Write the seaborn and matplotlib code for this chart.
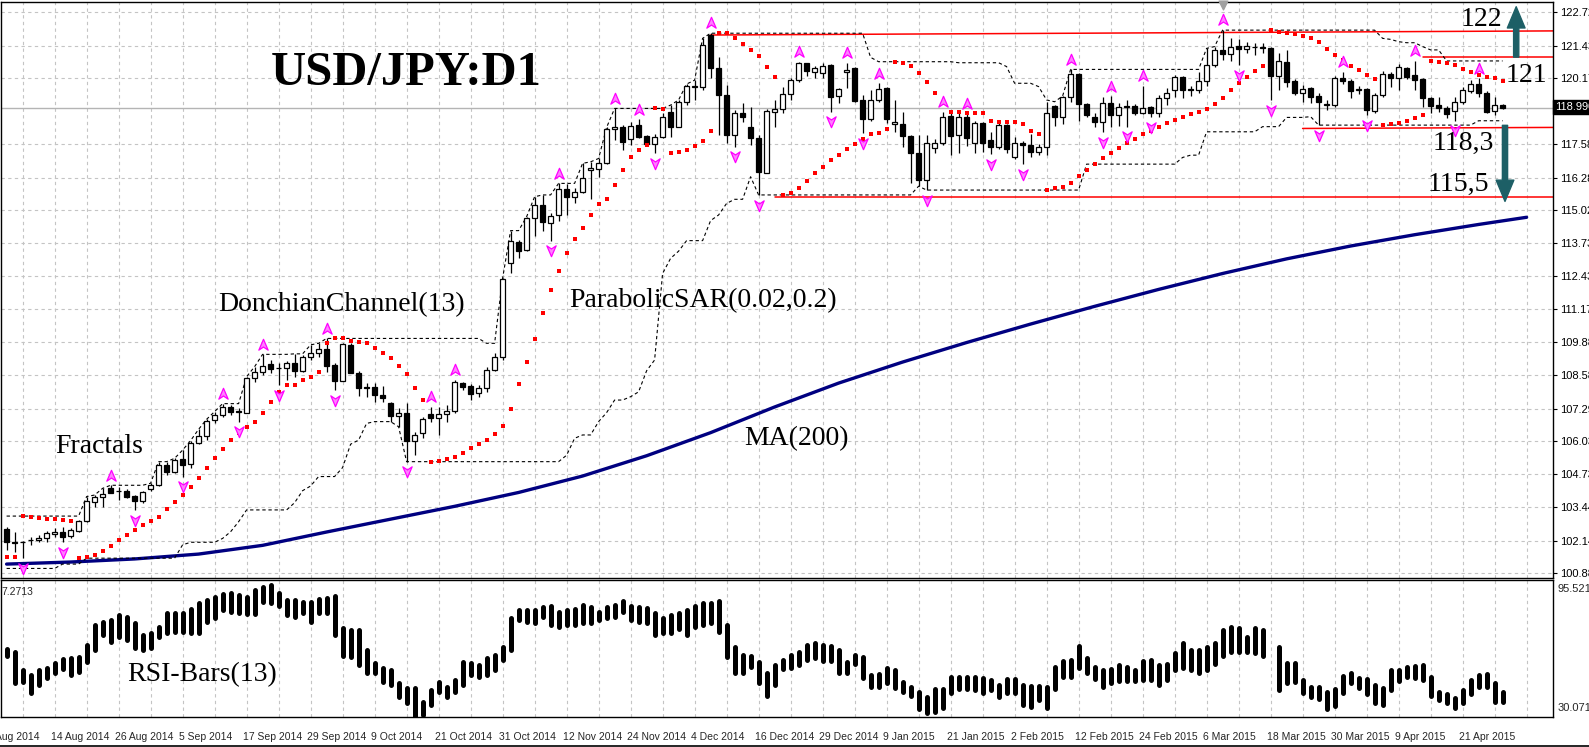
import numpy as np
import pandas as pd
import matplotlib.pyplot as plt
import seaborn as sns
from matplotlib.path import Path
from matplotlib.transforms import offset_copy

sns.set_style("white")
plt.rcParams['font.family'] = ['Liberation Sans', 'DejaVu Sans']

# USD/JPY daily bars, 6 Aug 2014 .. 28 Apr 2015
opens = [102.58, 102.10, 102.08, 102.15, 102.17, 102.24, 102.42, 102.47, 102.34, 102.53,
         102.90, 103.66, 103.83, 104.18, 104.08, 104.09, 103.88, 103.70, 104.14, 104.31,
         105.09, 104.83, 105.31, 105.13, 105.93, 106.22, 106.84, 107.04, 107.33, 107.19,
         107.13, 108.47, 108.73, 109.01, 108.87, 108.86, 109.05, 108.75, 109.31, 109.44,
         109.60, 108.99, 108.38, 109.77, 108.69, 108.12, 108.12, 107.82, 107.49, 107.00,
         107.10, 106.04, 106.32, 107.07, 106.94, 107.07, 107.19, 108.27, 108.17, 107.88,
         108.07, 108.79, 109.31, 112.94, 113.79, 113.46, 114.70, 115.22, 114.50, 114.83,
         115.83, 115.54, 115.74, 116.60, 116.63, 116.87, 118.17, 118.24, 117.78, 118.33,
         117.90, 117.59, 117.88, 118.85, 118.27, 119.24, 119.82, 119.80, 121.84, 120.54,
         119.50, 117.94, 118.82, 118.24, 117.81, 116.48, 118.85, 118.94, 119.54, 120.09,
         120.74, 120.39, 120.35, 120.67, 119.46, 120.39, 120.54, 119.31, 118.56, 119.31,
         119.76, 118.37, 118.37, 117.91, 117.23, 116.19, 117.42, 117.64, 118.69, 117.94,
         118.66, 117.62, 118.40, 117.75, 117.46, 118.33, 117.10, 117.62, 117.55, 117.29,
         117.49, 119.07, 118.63, 119.41, 120.32, 119.15, 118.63, 118.46, 119.18, 118.72,
         119.07, 119.07, 118.81, 119.02, 118.81, 119.37, 119.70, 120.19, 119.72, 119.70,
         120.06, 120.67, 121.26, 121.10, 121.41, 121.31, 121.36, 121.37, 121.32, 120.24,
         120.80, 120.06, 119.59, 119.76, 119.46, 119.13, 119.11, 120.15, 120.06, 119.70,
         119.72, 118.89, 119.50, 120.32, 120.15, 120.54, 120.28, 120.13, 119.37, 119.11,
         118.98, 118.89, 119.24, 119.67, 119.93, 119.57, 118.89, 119.11]
highs = [102.66, 102.47, 102.13, 102.27, 102.35, 102.50, 102.62, 102.69, 102.62, 102.95,
         103.86, 103.92, 104.18, 104.30, 104.25, 104.14, 103.92, 104.09, 104.38, 105.22,
         105.22, 105.35, 105.67, 106.04, 106.48, 106.87, 107.17, 107.48, 107.43, 107.30,
         108.53, 108.92, 109.40, 109.18, 109.05, 109.14, 109.42, 109.38, 109.77, 109.83,
         110.02, 109.05, 109.83, 109.83, 108.77, 108.27, 108.30, 108.17, 107.56, 107.30,
         107.49, 106.39, 106.97, 107.36, 107.33, 107.42, 108.40, 108.33, 108.24, 108.20,
         108.92, 109.46, 112.36, 114.22, 113.85, 114.76, 115.54, 115.61, 114.89, 116.06,
         116.04, 115.87, 116.84, 116.90, 117.03, 118.24, 118.98, 118.33, 118.46, 118.55,
         117.94, 117.97, 118.81, 119.11, 119.31, 119.93, 120.08, 121.71, 121.91, 120.97,
         119.89, 118.92, 119.18, 119.02, 117.94, 118.94, 119.31, 119.83, 120.15, 120.80,
         120.76, 120.65, 120.74, 120.70, 119.76, 120.76, 120.61, 119.50, 119.69, 119.96,
         119.83, 119.31, 118.85, 117.94, 117.94, 117.94, 117.77, 118.85, 118.79, 118.79,
         118.79, 118.50, 118.46, 118.07, 118.46, 118.37, 117.88, 117.72, 117.98, 117.59,
         119.24, 119.11, 119.46, 120.50, 120.37, 119.20, 118.79, 119.41, 119.45, 119.18,
         119.31, 119.15, 119.85, 119.07, 119.50, 119.76, 120.28, 120.24, 119.85, 120.41,
         121.32, 121.39, 122.03, 121.71, 121.67, 121.58, 121.54, 121.54, 121.39, 121.13,
         121.26, 120.11, 119.89, 119.80, 119.57, 119.31, 120.24, 120.41, 120.11, 119.85,
         119.76, 119.57, 120.45, 120.41, 120.71, 120.60, 120.83, 120.15, 119.44, 119.44,
         119.07, 119.44, 119.80, 120.09, 120.15, 119.67, 119.41, 119.15]
lows = [101.77, 101.72, 101.46, 101.98, 102.10, 102.10, 102.28, 102.08, 102.23, 102.49,
        102.88, 103.47, 103.47, 103.99, 103.73, 103.79, 103.34, 103.62, 104.09, 104.27,
        104.70, 104.77, 104.64, 104.99, 105.90, 106.06, 106.71, 106.97, 107.04, 106.78,
        107.10, 108.34, 108.60, 108.66, 108.20, 108.40, 108.50, 108.72, 109.18, 109.31,
        108.73, 108.01, 108.35, 108.66, 107.78, 107.75, 107.56, 107.56, 106.78, 106.58,
        105.22, 105.47, 106.13, 106.78, 106.26, 106.78, 107.13, 108.01, 107.62, 107.75,
        107.94, 108.76, 109.18, 112.55, 113.14, 113.42, 114.01, 114.22, 113.83, 114.61,
        114.83, 115.28, 115.67, 115.44, 116.32, 116.81, 117.75, 117.36, 117.55, 117.81,
        117.55, 117.23, 117.81, 117.85, 118.24, 119.11, 119.31, 119.70, 120.15, 117.94,
        117.62, 117.49, 118.46, 117.55, 115.61, 116.45, 118.24, 118.81, 119.31, 120.02,
        120.26, 120.15, 120.15, 118.85, 119.20, 119.79, 119.24, 118.01, 118.50, 119.24,
        118.40, 118.07, 117.49, 116.06, 115.95, 115.80, 117.23, 117.55, 117.17, 117.23,
        117.52, 117.26, 117.29, 117.19, 117.39, 117.26, 117.01, 116.81, 117.07, 117.16,
        117.16, 118.30, 118.37, 119.24, 118.50, 118.66, 118.24, 118.07, 118.27, 118.30,
        118.27, 118.72, 118.76, 118.63, 118.66, 119.11, 119.44, 119.37, 119.46, 119.57,
        119.85, 120.60, 120.87, 120.84, 120.67, 121.13, 121.06, 121.13, 119.31, 119.70,
        119.80, 119.50, 119.24, 119.18, 118.33, 118.92, 119.05, 119.93, 119.37, 119.54,
        118.72, 118.79, 119.44, 119.80, 119.70, 120.11, 119.70, 119.05, 118.79, 118.85,
        118.60, 118.50, 119.17, 119.57, 119.44, 118.81, 118.72, 118.94]
closes = [102.10, 102.05, 102.10, 102.17, 102.26, 102.43, 102.47, 102.30, 102.56, 102.90,
          103.69, 103.86, 103.95, 104.01, 104.06, 103.86, 103.70, 104.05, 104.32, 105.09,
          104.83, 105.29, 105.09, 105.93, 106.22, 106.82, 107.04, 107.36, 107.17, 107.17,
          108.47, 108.73, 108.95, 108.82, 108.85, 109.05, 108.75, 109.29, 109.44, 109.60,
          108.95, 108.38, 109.80, 108.69, 108.10, 108.10, 107.82, 107.69, 107.00, 107.10,
          106.04, 106.26, 106.90, 106.94, 107.07, 107.19, 108.31, 108.14, 107.85, 108.07,
          108.79, 109.31, 112.32, 113.83, 113.42, 114.70, 115.22, 114.57, 114.79, 115.83,
          115.54, 115.74, 116.26, 116.66, 116.87, 118.17, 118.24, 117.68, 118.31, 117.88,
          117.59, 117.85, 118.63, 118.24, 119.24, 119.85, 119.85, 121.45, 120.54, 119.50,
          117.94, 118.80, 118.63, 117.81, 116.52, 118.89, 118.94, 119.54, 120.09, 120.74,
          120.45, 120.56, 120.63, 119.41, 119.72, 120.48, 119.28, 118.56, 119.31, 119.72,
          118.56, 118.45, 117.91, 117.23, 116.19, 117.62, 117.64, 118.66, 117.91, 118.66,
          117.81, 118.40, 117.62, 117.46, 118.33, 117.39, 117.64, 117.55, 117.29, 117.49,
          118.81, 118.63, 119.41, 120.32, 119.15, 118.72, 118.46, 119.18, 118.72, 119.02,
          119.02, 118.81, 118.98, 118.81, 119.37, 119.59, 120.19, 119.70, 119.70, 120.06,
          120.67, 121.26, 121.10, 121.39, 121.31, 121.41, 121.38, 121.35, 120.24, 120.83,
          120.02, 119.59, 119.72, 119.44, 119.24, 119.17, 120.15, 120.06, 119.67, 119.72,
          118.92, 119.50, 120.32, 120.15, 120.58, 120.19, 120.09, 119.37, 119.07, 118.98,
          118.76, 119.24, 119.70, 119.93, 119.57, 118.85, 119.11, 118.99]

# 19 bars before the window (needed for the channel only)
pre_highs = [101.75, 101.70, 101.50, 101.65, 101.90, 101.75, 101.60, 101.45, 101.50, 101.55,
             101.60, 101.90, 101.95, 101.98, 102.15, 102.95, 103.10, 103.05, 102.70]
pre_lows = [101.50, 101.30, 101.20, 101.25, 101.40, 101.40, 101.06, 101.25, 101.30, 101.23,
            101.48, 101.50, 101.70, 101.75, 101.80, 101.95, 102.65, 102.35, 102.45]

# Parabolic SAR state on the first bar: sar, extreme point, factor (trend up)
sar_start = [101.49, 103.10, 0.02]

# fractal bars
fractal_up = [13, 27, 32, 40, 53, 56, 69, 76, 79, 88, 99, 105, 109, 117, 120, 133, 138,
              142, 152, 167, 176, 184]
fractal_down = [2, 7, 16, 22, 29, 34, 41, 50, 68, 81, 91, 94, 103, 107, 115, 123, 127,
                137, 140, 143, 154, 158, 164, 170, 181]

# MA(200) read every 8 bars
ma_bars = [0, 8, 16, 24, 32, 40, 48, 56, 64, 72, 80, 88, 96, 104, 112, 120, 128, 136,
           144, 152, 160, 168, 176, 184, 190]
ma_vals = [101.23, 101.31, 101.43, 101.62, 101.96, 102.48, 102.98, 103.48, 104.02, 104.66,
           105.45, 106.35, 107.35, 108.28, 109.10, 109.86, 110.58, 111.27, 111.93, 112.55,
           113.12, 113.62, 114.06, 114.46, 114.74]

# RSI-Bars(13) top / bottom
rsi_hi = [62.4, 61.3, 52.5, 50.1, 52.5, 53.3, 55.7, 57.6, 58.1, 58.6,
          64.5, 74.0, 75.6, 76.4, 78.8, 78.0, 74.8, 69.2, 70.0, 73.2,
          79.6, 79.6, 79.6, 81.5, 84.4, 86.0, 87.2, 88.8, 89.1, 88.4,
          87.5, 90.7, 92.3, 93.1, 89.1, 86.0, 86.0, 85.2, 85.2, 86.3,
          86.8, 87.9, 72.4, 71.6, 71.6, 62.1, 55.7, 53.3, 52.5, 46.2,
          43.8, 43.8, 37.4, 43.0, 47.0, 44.6, 47.7, 56.5, 55.7, 54.9,
          58.1, 59.7, 63.7, 77.2, 81.2, 81.2, 81.2, 82.8, 83.1, 80.4,
          81.2, 81.5, 83.6, 82.8, 80.4, 82.8, 83.6, 85.6, 83.1, 82.8,
          82.0, 79.6, 77.2, 78.8, 79.6, 81.2, 83.1, 84.4, 84.4, 85.6,
          74.0, 63.7, 59.7, 59.2, 56.5, 50.9, 54.9, 57.3, 59.7, 61.3,
          64.5, 65.3, 64.5, 64.0, 62.1, 56.5, 59.7, 58.6, 50.1, 50.6,
          53.3, 52.5, 47.0, 44.6, 42.2, 39.8, 43.3, 43.3, 49.3, 49.3,
          49.3, 49.0, 48.5, 47.7, 45.4, 48.1, 48.1, 45.4, 44.9, 44.9,
          44.6, 53.8, 57.0, 57.3, 64.0, 58.1, 54.1, 52.5, 52.8, 54.9,
          54.1, 52.5, 57.0, 57.3, 54.9, 55.4, 60.5, 65.3, 62.1, 62.1,
          63.4, 65.6, 71.6, 73.2, 72.4, 68.5, 72.4, 71.6, np.nan, 63.4,
          55.7, 56.0, 47.7, 44.3, 44.3, 42.2, 43.3, 49.7, 51.3, 48.5,
          48.1, 45.4, 43.8, 52.5, 52.5, 54.1, 54.5, 54.9, 49.3, 42.2,
          41.1, 39.0, 43.0, 47.7, 50.1, 50.6, 46.2, 42.2]
rsi_lo = [59.2, 46.2, 47.0, 41.4, 45.4, 48.5, 50.9, 52.8, 50.1, 51.7,
          56.5, 62.1, 69.2, 66.1, 68.5, 66.9, 62.9, 62.1, 62.9, 68.5,
          70.0, 70.8, 70.8, 70.4, 70.0, 75.6, 77.2, 81.2, 80.4, 79.9,
          79.3, 79.3, 85.2, 84.4, 83.1, 78.8, 78.0, 79.6, 75.6, 79.6,
          79.6, 69.2, 59.2, 58.9, 54.9, 50.9, 50.9, 47.0, 45.4, 39.8,
          36.6, 29.5, 31.0, 35.8, 42.2, 39.8, 42.2, 45.4, 50.1, 49.3,
          50.1, 52.5, 57.3, 62.1, 76.4, 75.6, 75.1, 78.0, 74.0, 72.9,
          74.0, 74.0, 74.8, 74.8, 76.4, 77.2, 78.0, 80.4, 76.4, 75.6,
          74.8, 69.2, 70.0, 70.0, 72.0, 69.2, 73.2, 74.0, 74.8, 70.8,
          58.9, 50.9, 50.9, 54.1, 46.2, 40.1, 45.4, 52.8, 53.3, 54.9,
          57.3, 58.1, 57.0, 57.0, 50.9, 50.9, 55.4, 48.5, 44.3, 44.3,
          46.2, 43.8, 42.2, 40.1, 33.7, 32.1, 32.6, 34.2, 41.7, 43.3,
          43.3, 43.0, 41.4, 43.0, 39.5, 41.4, 41.4, 35.8, 35.0, 38.2,
          34.2, 43.3, 49.0, 49.3, 53.3, 50.9, 48.1, 44.6, 46.2, 47.4,
          47.4, 47.4, 47.7, 47.7, 45.4, 47.7, 52.5, 53.3, 52.5, 50.9,
          52.5, 55.4, 59.2, 61.3, 61.3, 61.3, 60.5, 59.2, np.nan, 43.0,
          46.2, 47.0, 41.4, 39.5, 38.5, 33.7, 35.3, 41.7, 46.2, 43.8,
          41.1, 36.9, 35.8, 43.0, 47.4, 49.0, 48.5, 47.7, 40.1, 38.2,
          36.6, 34.2, 36.6, 41.1, 44.3, 44.3, 37.4, 37.4]

price_levels = [122.725, 121.430, 120.170, 117.580, 116.285, 115.025, 113.730, 112.435,
                111.175, 109.880, 108.585, 107.290, 106.030, 104.735, 103.440, 102.145, 100.885]
last_price = 118.99

date_labels = ["4 Aug 2014", "14 Aug 2014", "26 Aug 2014", "5 Sep 2014", "17 Sep 2014",
               "29 Sep 2014", "9 Oct 2014", "21 Oct 2014", "31 Oct 2014", "12 Nov 2014",
               "24 Nov 2014", "4 Dec 2014", "16 Dec 2014", "29 Dec 2014", "9 Jan 2015",
               "21 Jan 2015", "2 Feb 2015", "12 Feb 2015", "24 Feb 2015", "6 Mar 2015",
               "18 Mar 2015", "30 Mar 2015", "9 Apr 2015", "21 Apr 2015"]

df = pd.DataFrame({"open": opens, "high": highs, "low": lows, "close": closes})
n = len(df)
idx = np.arange(n)

# Donchian channel (20 bars incl. current)
all_hi = pd.Series(pre_highs + highs)
all_lo = pd.Series(pre_lows + lows)
np_pre = len(pre_highs)
don_up = all_hi.rolling(20).max().values[np_pre:]
don_dn = all_lo.rolling(20).min().values[np_pre:]

# Parabolic SAR (0.02, 0.2)
sar = np.zeros(n)
up = True
s, ep, af = sar_start
sar[0] = s
for i in range(1, n):
    s = s + af * (ep - s)
    if up:
        s = min(s, lows[i - 1], lows[max(i - 2, 0)])
        if lows[i] < s:
            up, s, ep, af = False, ep, lows[i], 0.02
        elif highs[i] > ep:
            ep, af = highs[i], min(af + 0.02, 0.2)
    else:
        s = max(s, highs[i - 1], highs[max(i - 2, 0)])
        if highs[i] > s:
            up, s, ep, af = True, ep, highs[i], 0.02
        elif lows[i] < ep:
            ep, af = lows[i], min(af + 0.02, 0.2)
    sar[i] = s

W, H = 1589, 747
fig = plt.figure(figsize=(W / 100, H / 100), dpi=100)
fig.patch.set_facecolor("white")
ax = fig.add_axes([1 / W, 1 - 578 / H, 1552 / W, 576 / H])
ax2 = fig.add_axes([1 / W, 1 - 717 / H, 1552 / W, 137 / H])

xmin, xmax = -0.7, 193.3
ymin, ymax = 100.688, 123.126
grid_major = np.arange(-2, 195, 8)
grid_minor = np.arange(2, 195, 8)
gkw = dict(color="#c4c4c4", linewidth=0.8, linestyle=(0, (3, 3)))

# support / resistance lines
ax.plot([88, xmax], [121.84, 122.0], color="#ff0000", lw=1.1, zorder=2)
ax.plot([177, xmax], [120.97, 120.97], color="#ff0000", lw=1.1, zorder=2)
ax.plot([162, xmax], [118.20, 118.24], color="#ff0000", lw=1.1, zorder=2)
ax.plot([96, xmax], [115.52, 115.52], color="#ff0000", lw=1.1, zorder=2)
ax.axhline(last_price, color="#b4b4b4", lw=1.0, zorder=1)

# MA(200)
sns.lineplot(x=ma_bars, y=ma_vals, ax=ax, color="#000080", linewidth=2.4, zorder=3)

# Donchian channel
sns.lineplot(x=idx, y=don_up, ax=ax, color="black", linewidth=0.8,
             linestyle=(0, (3, 2.5)), zorder=3)
sns.lineplot(x=idx, y=don_dn, ax=ax, color="black", linewidth=0.8,
             linestyle=(0, (3, 2.5)), zorder=3)

# candles
ax.vlines(idx, df["low"], df["high"], color="black", lw=0.9, zorder=4)
bull = df["close"] >= df["open"]
body_lo = np.minimum(df["open"], df["close"])
body_h = np.maximum((df["close"] - df["open"]).abs(), 0.015)
ax.bar(idx, body_h, bottom=body_lo, width=0.6,
       color=np.where(bull, "white", "black"), edgecolor="black", linewidth=0.9, zorder=5)

# Parabolic SAR
sns.scatterplot(x=idx, y=sar, ax=ax, marker="s", s=7, color="#ff0000",
                linewidth=0, zorder=6)

# fractals
arrow_up = Path([(0, 1), (0.75, -0.75), (0, -0.25), (-0.75, -0.75), (0, 1)],
                [Path.MOVETO, Path.LINETO, Path.LINETO, Path.LINETO, Path.CLOSEPOLY])
arrow_dn = Path([(0, -1), (0.75, 0.75), (0, 0.25), (-0.75, 0.75), (0, -1)],
                [Path.MOVETO, Path.LINETO, Path.LINETO, Path.LINETO, Path.CLOSEPOLY])
tr_up = offset_copy(ax.transData, fig=fig, y=7, units="points")
tr_dn = offset_copy(ax.transData, fig=fig, y=-7, units="points")
ax.scatter(fractal_up, df["high"].values[fractal_up], marker=arrow_up, s=80,
           facecolor="#ff80ff", edgecolor="#ff00ff", linewidth=0.9, transform=tr_up, zorder=7)
ax.scatter(fractal_down, df["low"].values[fractal_down], marker=arrow_dn, s=80,
           facecolor="#ff80ff", edgecolor="#ff00ff", linewidth=0.9, transform=tr_dn, zorder=7)

# chart shift marker
ax.scatter([152], [123.0], marker="v", s=40, color="#a0a0a0", zorder=7, clip_on=False)

# target arrows
teal = "#1d5f66"
akw = dict(arrowstyle="simple,head_length=0.9,head_width=0.75,tail_width=0.22",
           color=teal, mutation_scale=17)
ax.annotate("", xy=(188.7, 123.05), xytext=(188.7, 120.87), arrowprops=akw, zorder=8)
ax.annotate("", xy=(187.3, 115.25), xytext=(187.3, 118.43), arrowprops=akw, zorder=8)

# axes styling: ticks first (set_xticks widens limits), then limits
ax.set_xticks(grid_major)
ax.set_xticks(grid_minor, minor=True)
ax.set_yticks(price_levels)
ax.set_xlim(xmin, xmax)
ax.set_ylim(ymin, ymax)
ax.set_xlabel("")
ax.set_ylabel("")
ax.grid(True, which="both", axis="x", **gkw)
ax.grid(True, which="major", axis="y", **gkw)
ax.set_axisbelow(True)
ax.tick_params(axis="x", which="both", length=0, labelbottom=False)
ax.yaxis.tick_right()
ax.tick_params(axis="y", length=3, width=0.8, pad=2, labelsize=8, colors="black")
ax.set_yticklabels([f"{v:.3f}" for v in price_levels])
for sp in ax.spines.values():
    sp.set_color("black")
    sp.set_linewidth(1.0)

# ---- RSI panel
ax2.vlines(idx, rsi_lo, rsi_hi, color="black", lw=3.6, capstyle="round", zorder=3)
ax2.set_xticks(grid_major)
ax2.set_xticks(grid_minor, minor=True)
ax2.set_yticks([])
ax2.set_xlim(xmin, xmax)
ax2.set_ylim(30.07, 95.52)
ax2.grid(True, which="both", axis="x", **gkw)
ax2.set_axisbelow(True)
ax2.tick_params(axis="x", which="major", length=4, width=0.8, labelbottom=False)
ax2.tick_params(axis="x", which="minor", length=0)
for sp in ax2.spines.values():
    sp.set_color("black")
    sp.set_linewidth(1.0)

ax2.text(1.003, 0.97, "95.5214", transform=ax2.transAxes, fontsize=8, va="top", ha="left")
ax2.text(1.003, 0.03, "30.0711", transform=ax2.transAxes, fontsize=8, va="bottom", ha="left")
ax2.text(0.0, 0.95, "7.2713", transform=ax2.transAxes, fontsize=7.5, va="top", ha="left")

xt = ax2.get_xaxis_transform()
for k, lab in enumerate(date_labels):
    ax2.text(grid_major[k] - 0.5, -0.145, lab, transform=xt, fontsize=7.5,
             ha="left", va="center", clip_on=False)

# current price box
fig.text(1555 / W, 1 - 107 / H, "118.990", fontsize=8, color="white", va="center",
         ha="left", bbox=dict(boxstyle="square,pad=0.15", fc="black", ec="black"))

# annotations
serif = ["Liberation Serif", "DejaVu Serif"]


def ftxt(x, y, s, size=20, weight="normal"):
    fig.text(x / W, 1 - y / H, s, fontsize=size, family=serif, weight=weight,
             ha="left", va="baseline", color="black")


ftxt(271, 85, "USD/JPY:D1", size=35, weight="bold")
ftxt(55, 453, "Fractals")
ftxt(218, 311, "DonchianChannel(13)")
ftxt(569, 307, "ParabolicSAR(0.02,0.2)")
ftxt(744, 445, "MA(200)")
ftxt(127, 681, "RSI-Bars(13)")
ftxt(1461, 26, "122")
ftxt(1506, 82, "121")
ftxt(1433, 150, "118,3")
ftxt(1428, 191, "115,5")

fig.add_artist(plt.Line2D([0, 1], [1.5 / H, 1.5 / H], color="black", lw=1.2))

fig.savefig("out.png", dpi=100, facecolor="white")
